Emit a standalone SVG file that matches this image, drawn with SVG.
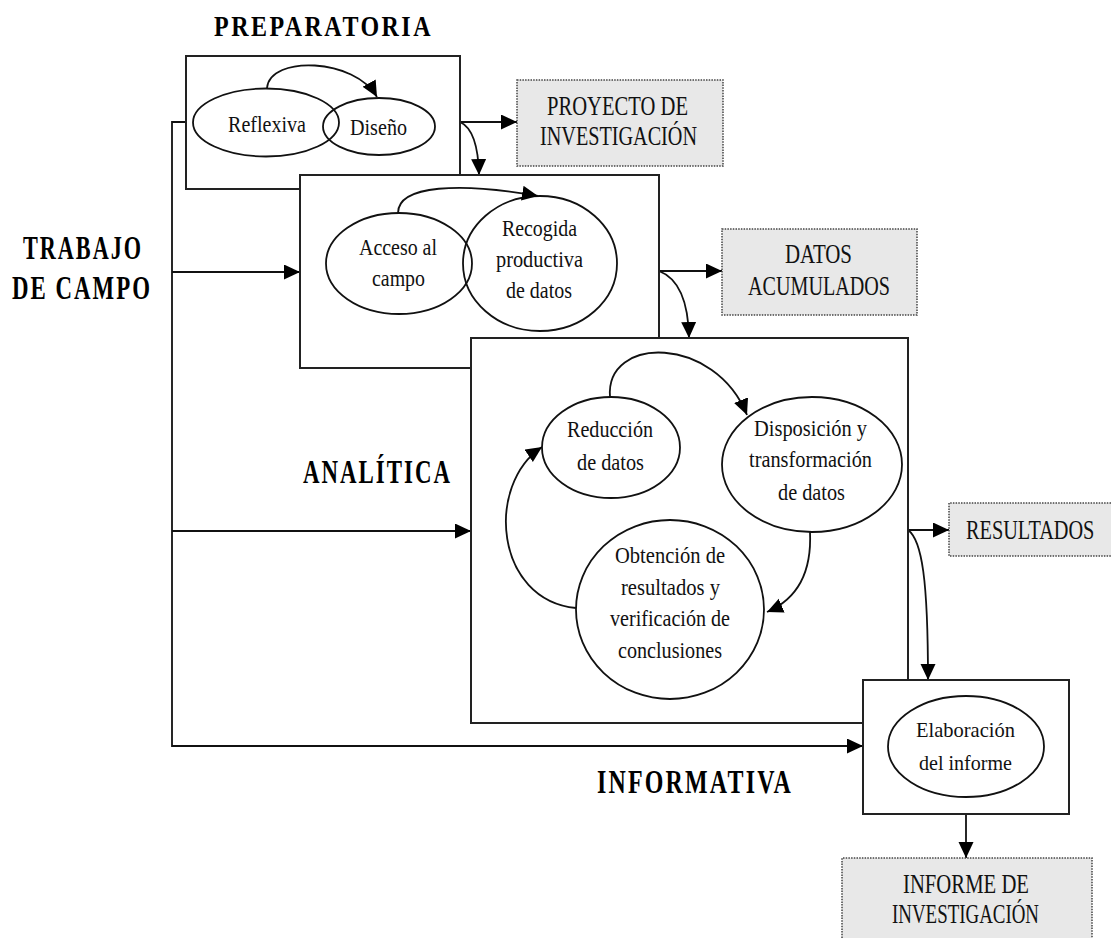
<svg xmlns="http://www.w3.org/2000/svg" width="1111" height="938" viewBox="0 0 1111 938">
<defs>
<marker id="ah" markerUnits="userSpaceOnUse" markerWidth="17" markerHeight="16" refX="16" refY="7.5" orient="auto">
<path d="M0,0 L16,7.5 L0,15 z" fill="#000"/>
</marker>
<style>
.box{fill:#fff;stroke:#222;stroke-width:2}
.ell{fill:none;stroke:#111;stroke-width:1.8}
.out{fill:#e8e8e8;stroke:#444;stroke-width:1.5;stroke-dasharray:1.5 1.2}
.outf{fill:#e8e8e8;stroke:none}
.outb{fill:none;stroke:#444;stroke-width:1.5;stroke-dasharray:1.5 1.2}
.ca{fill:none;stroke:#111;stroke-width:1.8;marker-end:url(#ah)}
.t{font-family:"Liberation Serif","Times New Roman",serif;font-size:24px;fill:#111}
.s{font-family:"Liberation Serif","Times New Roman",serif;font-size:22px;fill:#111}
.o{font-family:"Liberation Serif","Times New Roman",serif;font-size:27px;fill:#111}
.h{font-family:"Liberation Serif","Times New Roman",serif;font-size:34px;font-weight:bold;letter-spacing:3px;fill:#000}
</style>
</defs>
<rect width="1111" height="938" fill="#fff"/>

<g id="titles">
<text class="h" x="214" y="36" textLength="219" lengthAdjust="spacingAndGlyphs" style="font-size:29px">PREPARATORIA</text>
<text class="h" x="23" y="259" textLength="120" lengthAdjust="spacingAndGlyphs">TRABAJO</text>
<text class="h" x="12" y="299" textLength="140" lengthAdjust="spacingAndGlyphs">DE CAMPO</text>
<text class="h" x="303" y="483" textLength="149" lengthAdjust="spacingAndGlyphs">ANALÍTICA</text>
<text class="h" x="597" y="793" textLength="196" lengthAdjust="spacingAndGlyphs" style="font-size:33px">INFORMATIVA</text>
</g>

<g id="connectors">
<path class="ca" d="M186,122 H172 V746 H863"/>
<path class="ca" d="M172,272 H300"/>
<path class="ca" d="M172,531 H471"/>
<path class="ca" d="M460,122 H517"/>
<path class="ca" d="M460,122 Q478,130 479,175"/>
<path class="ca" d="M659,271 H722"/>
<path class="ca" d="M659,271 Q688,282 689,338"/>
<path class="ca" d="M908,530 H949"/>
<path class="ca" d="M908,530 C922,540 928,580 928,680"/>
<path class="ca" d="M966,814 V858"/>
</g>

<g id="preparatoria">
<rect class="box" x="186" y="56" width="274" height="133"/>
<ellipse class="ell" cx="266" cy="122.5" rx="73" ry="34"/>
<ellipse class="ell" cx="379" cy="126.5" rx="56" ry="28.5"/>
<path class="ca" d="M267,88 C270,55 355,58 377,97"/>
<text class="t" x="228" y="132" textLength="78" lengthAdjust="spacingAndGlyphs">Reflexiva</text>
<text class="t" x="350" y="135" textLength="57" lengthAdjust="spacingAndGlyphs">Diseño</text>
</g>

<g id="trabajo-de-campo">
<rect class="box" x="300" y="175" width="359" height="193"/>
<ellipse class="ell" cx="399" cy="263.5" rx="73" ry="50.5"/>
<ellipse class="ell" cx="540" cy="263.5" rx="77" ry="67.5"/>
<path class="ca" d="M398,213 C398,185 460,182 538,196"/>
<text class="t" x="359" y="255" textLength="78" lengthAdjust="spacingAndGlyphs">Acceso al</text>
<text class="t" x="372" y="286" textLength="53" lengthAdjust="spacingAndGlyphs">campo</text>
<text class="t" x="502" y="236" textLength="75" lengthAdjust="spacingAndGlyphs">Recogida</text>
<text class="t" x="496" y="267" textLength="87" lengthAdjust="spacingAndGlyphs">productiva</text>
<text class="t" x="506" y="298" textLength="66" lengthAdjust="spacingAndGlyphs">de datos</text>
</g>

<g id="analitica">
<rect class="box" x="471" y="338" width="437" height="385"/>
<ellipse class="ell" cx="611" cy="447.5" rx="69" ry="50.5"/>
<ellipse class="ell" cx="812" cy="464.5" rx="90" ry="67.5"/>
<ellipse class="ell" cx="670" cy="609.5" rx="94" ry="89.5"/>
<path class="ca" d="M610,397 C605,335 715,335 747,415"/>
<path class="ca" d="M810,532 C812,575 795,600 767,612"/>
<path class="ca" d="M576,608 C495,600 485,485 542,447"/>
<text class="t" x="567" y="437" textLength="86" lengthAdjust="spacingAndGlyphs">Reducción</text>
<text class="t" x="577" y="470" textLength="67" lengthAdjust="spacingAndGlyphs">de datos</text>
<text class="t" x="754" y="436" textLength="113" lengthAdjust="spacingAndGlyphs">Disposición y</text>
<text class="t" x="749" y="467" textLength="123" lengthAdjust="spacingAndGlyphs">transformación</text>
<text class="t" x="778" y="500" textLength="67" lengthAdjust="spacingAndGlyphs">de datos</text>
<text class="t" x="615" y="563" textLength="110" lengthAdjust="spacingAndGlyphs">Obtención de</text>
<text class="t" x="621" y="595" textLength="99" lengthAdjust="spacingAndGlyphs">resultados y</text>
<text class="t" x="610" y="626" textLength="120" lengthAdjust="spacingAndGlyphs">verificación de</text>
<text class="t" x="618" y="658" textLength="104" lengthAdjust="spacingAndGlyphs">conclusiones</text>
</g>

<g id="informativa">
<rect class="box" x="863" y="680" width="206" height="134"/>
<ellipse class="ell" cx="966" cy="746.5" rx="78" ry="50.5"/>
<text class="s" x="916" y="737" textLength="99" lengthAdjust="spacingAndGlyphs">Elaboración</text>
<text class="s" x="919" y="770" textLength="93" lengthAdjust="spacingAndGlyphs">del informe</text>
</g>

<g id="proyecto-de-investigacion">
<rect class="out" x="517" y="80" width="206" height="86"/>
<text class="o" x="547" y="115" textLength="141" lengthAdjust="spacingAndGlyphs">PROYECTO DE</text>
<text class="o" x="540" y="145" textLength="157" lengthAdjust="spacingAndGlyphs">INVESTIGACIÓN</text>
</g>

<g id="datos-acumulados">
<rect class="out" x="722" y="229" width="195" height="86"/>
<text class="o" x="785" y="263" textLength="67" lengthAdjust="spacingAndGlyphs" style="font-size:28px">DATOS</text>
<text class="o" x="748" y="295" textLength="142" lengthAdjust="spacingAndGlyphs" style="font-size:28px">ACUMULADOS</text>
</g>

<g id="resultados">
<rect class="outf" x="949" y="503" width="162" height="53"/>
<path class="outb" d="M1111,503 H949 V556 H1111"/>
<text class="o" transform="translate(966,539) scale(0.725,1)" x="0" y="0" style="font-size:28px">RESULTADOS</text>
</g>

<g id="informe-de-investigacion">
<rect class="outf" x="842" y="858" width="250" height="80"/>
<path class="outb" d="M842,938 V858 H1092 V938"/>
<text class="o" x="903" y="893" textLength="126" lengthAdjust="spacingAndGlyphs">INFORME DE</text>
<text class="o" x="892" y="923" textLength="147" lengthAdjust="spacingAndGlyphs">INVESTIGACIÓN</text>
</g>
</svg>
